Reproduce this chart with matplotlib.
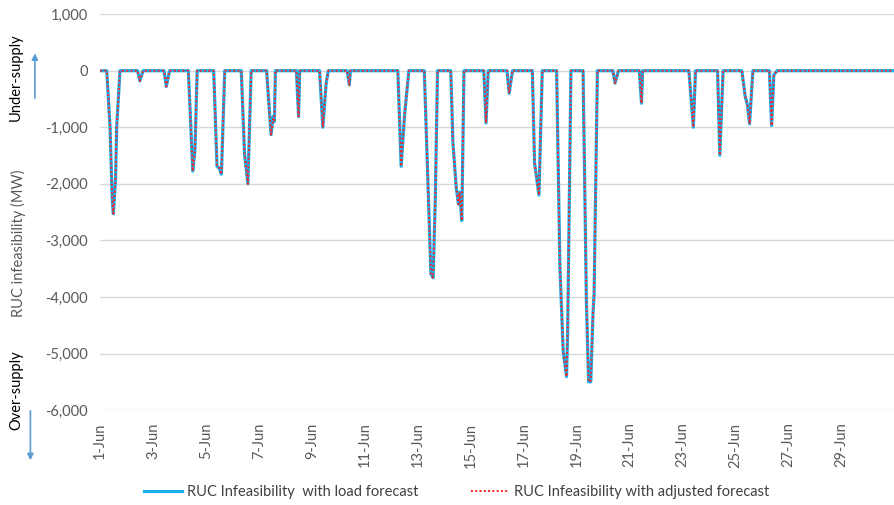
import matplotlib.pyplot as plt
import numpy as np

plt.rcParams['font.family'] = ['Lato', 'DejaVu Sans']

# hours from 1-Jun 00:00, values in MW
hours = [0, 6, 9, 11, 12, 14, 15, 18,
         34, 36, 39,
         58, 60, 63,
         80, 82, 84, 86, 88,
         103, 106, 108, 110, 113,
         128, 131, 134, 137,
         151, 155, 157, 158, 159,
         178, 180, 181,
         199, 202, 205, 207,
         224, 226, 227,
         270, 273, 276, 280,
         294, 300, 302, 304, 306,
         318, 320, 323, 325, 326, 328, 330,
         348, 350, 352,
         369, 371, 374,
         392, 394, 398, 401,
         414, 417, 420, 423, 424, 427,
         438, 441, 443, 445, 447, 448, 451,
         465, 467, 469, 470,
         489, 491, 492,
         534, 538, 540,
         560, 562, 565,
         582, 585, 587, 589, 592,
         607, 609, 611, 614,
         719]
load_fc = [0, 0, -1000, -2300, -2530, -1900, -1000, 0,
           0, -180, 0,
           0, -280, 0,
           0, -870, -1775, -1400, 0,
           0, -1690, -1720, -1830, 0,
           0, -1480, -2000, 0,
           0, -1130, -810, -900, 0,
           0, -810, 0,
           0, -1000, -220, 0,
           0, -250, 0,
           0, -1690, -810, 0,
           0, -3590, -3660, -2240, 0,
           0, -1280, -2070, -2360, -2150, -2650, 0,
           0, -925, 0,
           0, -400, 0,
           0, -1630, -2200, 0,
           0, -3470, -4970, -5410, -4650, 0,
           0, -4060, -5500, -5500, -4290, -3940, 0,
           0, -220, -80, 0,
           0, -575, 0,
           0, -1000, 0,
           0, -1495, 0,
           0, -450, -600, -940, 0,
           0, -970, -75, 0,
           0]
adj_fc = [0, 0, -1000, -2300, -2530, -1900, -1000, 0,
          0, -180, 0,
          0, -280, 0,
          0, -900, -1775, -1400, 0,
          0, -1690, -1720, -1830, 0,
          0, -1480, -2000, 0,
          0, -1130, -850, -900, 0,
          0, -810, 0,
          0, -1000, -220, 0,
          0, -250, 0,
          0, -1690, -810, 0,
          0, -3620, -3660, -2240, 0,
          0, -1280, -2070, -2360, -2150, -2650, 0,
          0, -925, 0,
          0, -400, 0,
          0, -1630, -2200, 0,
          0, -3470, -4970, -5410, -4650, 0,
          0, -4060, -5500, -5480, -4290, -3940, 0,
          0, -220, -80, 0,
          0, -575, 0,
          0, -1000, 0,
          0, -1495, 0,
          0, -450, -600, -940, 0,
          0, -970, -75, 0,
          0]
tick_days = list(range(1, 30, 2))
tick_labels = [f"{d}-Jun" for d in tick_days]

fig = plt.figure(figsize=(8.94, 5.05), dpi=100)
ax = fig.add_axes([0.112, 0.188, 0.888, 0.784])

ax.plot(hours, load_fc, color='#1AAEEA', lw=2.3, solid_joinstyle='round',
        label='RUC Infeasibility  with load forecast')
ax.plot(hours, adj_fc, color='#FF2020', lw=1.4, ls=(0, (1, 1.2)),
        label='RUC Infeasibility with adjusted forecast')

ax.set_xlim(0, 720)
ax.set_ylim(-6000, 1000)
ax.set_yticks(np.arange(-6000, 1001, 1000))
ax.yaxis.set_major_formatter(plt.FuncFormatter(lambda v, p: f"{int(v):,}"))
ax.set_xticks([(d - 1) * 24 for d in tick_days])
ax.set_xticklabels(tick_labels, rotation=90)
ax.tick_params(length=0, labelsize=10.5, colors='#595959', pad=9)
ax.grid(axis='y', color='#D9D9D9', lw=1)
ax.set_axisbelow(True)
for s in ax.spines.values():
    s.set_visible(False)

fig.text(0.021, 0.519, 'RUC infeasibility (MW)', rotation=90, ha='center',
         va='center', color='#595959', fontsize=10.5)
fig.text(0.018, 0.848, 'Under-supply', rotation=90, ha='center', va='center',
         color='black', fontsize=10.5)
fig.text(0.018, 0.228, 'Over-supply', rotation=90, ha='center', va='center',
         color='black', fontsize=10.5)
fig.add_artist(plt.Annotation('', xy=(0.039, 0.9), xytext=(0.039, 0.8),
               xycoords='figure fraction',
               arrowprops=dict(arrowstyle='-|>', color='#5B9BD5', lw=1.2,
                               mutation_scale=9)))
fig.add_artist(plt.Annotation('', xy=(0.034, 0.083), xytext=(0.034, 0.192),
               xycoords='figure fraction',
               arrowprops=dict(arrowstyle='-|>', color='#5B9BD5', lw=1.2,
                               mutation_scale=9)))

fig.legend(loc='center', bbox_to_anchor=(0.511, 0.026), ncol=2, frameon=False,
           fontsize=10.5, handlelength=2.6, columnspacing=3.6,
           handletextpad=0.35, labelcolor='#404040')

fig.savefig('out.png', dpi=100)
